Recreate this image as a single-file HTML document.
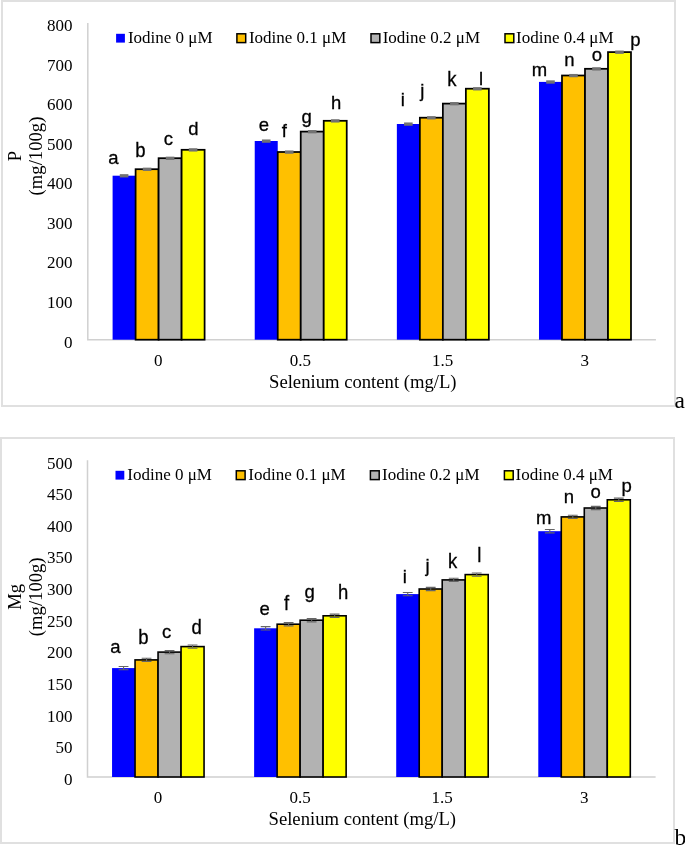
<!DOCTYPE html>
<html><head><meta charset="utf-8"><style>
html,body{margin:0;padding:0;background:#fff;}
svg{display:block;will-change:transform;}
</style></head><body>
<svg width="685" height="845" viewBox="0 0 685 845">
<g transform="translate(0 0)">
<rect x="2" y="1" width="673" height="405" fill="#fff" stroke="#e0e0e0" stroke-width="2"/>
<text x="72.6" y="347.6" text-anchor="end" font-family="'Liberation Serif', serif" font-size="17">0</text>
<text x="72.6" y="308.02" text-anchor="end" font-family="'Liberation Serif', serif" font-size="17">100</text>
<text x="72.6" y="268.45" text-anchor="end" font-family="'Liberation Serif', serif" font-size="17">200</text>
<text x="72.6" y="228.88" text-anchor="end" font-family="'Liberation Serif', serif" font-size="17">300</text>
<text x="72.6" y="189.3" text-anchor="end" font-family="'Liberation Serif', serif" font-size="17">400</text>
<text x="72.6" y="149.72" text-anchor="end" font-family="'Liberation Serif', serif" font-size="17">500</text>
<text x="72.6" y="110.15" text-anchor="end" font-family="'Liberation Serif', serif" font-size="17">600</text>
<text x="72.6" y="70.58" text-anchor="end" font-family="'Liberation Serif', serif" font-size="17">700</text>
<text x="72.6" y="31" text-anchor="end" font-family="'Liberation Serif', serif" font-size="17">800</text>
<path d="M87.8 23.1V339.7H655.92" stroke="#d0d0d0" stroke-width="1.5" fill="none"/>
<rect x="112.6" y="175.7" width="23" height="164" fill="#0000ff"/>
<rect x="135.6" y="169.2" width="23" height="170.5" fill="#ffc000" stroke="#000" stroke-width="1.75"/>
<rect x="158.6" y="158.2" width="23" height="181.5" fill="#b2b2b2" stroke="#000" stroke-width="1.75"/>
<rect x="181.6" y="149.8" width="23" height="189.9" fill="#ffff00" stroke="#000" stroke-width="1.75"/>
<rect x="254.73" y="141" width="23" height="198.7" fill="#0000ff"/>
<rect x="277.73" y="152" width="23" height="187.7" fill="#ffc000" stroke="#000" stroke-width="1.75"/>
<rect x="300.73" y="131.6" width="23" height="208.1" fill="#b2b2b2" stroke="#000" stroke-width="1.75"/>
<rect x="323.73" y="120.8" width="23" height="218.9" fill="#ffff00" stroke="#000" stroke-width="1.75"/>
<rect x="396.86" y="124" width="23" height="215.7" fill="#0000ff"/>
<rect x="419.86" y="117.7" width="23" height="222" fill="#ffc000" stroke="#000" stroke-width="1.75"/>
<rect x="442.86" y="103.6" width="23" height="236.1" fill="#b2b2b2" stroke="#000" stroke-width="1.75"/>
<rect x="465.86" y="88.7" width="23" height="251" fill="#ffff00" stroke="#000" stroke-width="1.75"/>
<rect x="538.99" y="81.9" width="23" height="257.8" fill="#0000ff"/>
<rect x="561.99" y="75.5" width="23" height="264.2" fill="#ffc000" stroke="#000" stroke-width="1.75"/>
<rect x="584.99" y="68.8" width="23" height="270.9" fill="#b2b2b2" stroke="#000" stroke-width="1.75"/>
<rect x="607.99" y="52.1" width="23" height="287.6" fill="#ffff00" stroke="#000" stroke-width="1.75"/>
<rect x="119.8" y="174.15" width="8.6" height="3.3" fill="#727272"/>
<rect x="142.8" y="167.65" width="8.6" height="3.3" fill="#727272"/>
<rect x="165.8" y="156.65" width="8.6" height="3.3" fill="#727272"/>
<rect x="188.8" y="148.25" width="8.6" height="3.3" fill="#727272"/>
<rect x="261.93" y="139.45" width="8.6" height="3.3" fill="#727272"/>
<rect x="284.93" y="150.45" width="8.6" height="3.3" fill="#727272"/>
<rect x="307.93" y="130.05" width="8.6" height="3.3" fill="#727272"/>
<rect x="330.93" y="119.25" width="8.6" height="3.3" fill="#727272"/>
<rect x="404.06" y="122.45" width="8.6" height="3.3" fill="#727272"/>
<rect x="427.06" y="116.15" width="8.6" height="3.3" fill="#727272"/>
<rect x="450.06" y="102.05" width="8.6" height="3.3" fill="#727272"/>
<rect x="473.06" y="87.15" width="8.6" height="3.3" fill="#727272"/>
<rect x="546.19" y="80.35" width="8.6" height="3.3" fill="#727272"/>
<rect x="569.19" y="73.95" width="8.6" height="3.3" fill="#727272"/>
<rect x="592.19" y="67.25" width="8.6" height="3.3" fill="#727272"/>
<rect x="615.19" y="50.55" width="8.6" height="3.3" fill="#727272"/>
<text x="113.35" y="164.0" text-anchor="middle" font-family="'Liberation Sans', sans-serif" font-size="18.5" stroke="#000" stroke-width="0.3">a</text>
<text transform="translate(140.4 156.8) scale(1 1.05)" text-anchor="middle" font-family="'Liberation Sans', sans-serif" font-size="18.5" stroke="#000" stroke-width="0.28">b</text>
<text x="168.4" y="144.5" text-anchor="middle" font-family="'Liberation Sans', sans-serif" font-size="18.5" stroke="#000" stroke-width="0.3">c</text>
<text transform="translate(193.45 134.9) scale(1 1.03)" text-anchor="middle" font-family="'Liberation Sans', sans-serif" font-size="18.5" stroke="#000" stroke-width="0.28">d</text>
<text x="263.9" y="131.0" text-anchor="middle" font-family="'Liberation Sans', sans-serif" font-size="18.5" stroke="#000" stroke-width="0.3">e</text>
<text transform="translate(284.25 137.1) scale(1 1.03)" text-anchor="middle" font-family="'Liberation Sans', sans-serif" font-size="18.5" stroke="#000" stroke-width="0.28">f</text>
<text x="306.6" y="122.5" text-anchor="middle" font-family="'Liberation Sans', sans-serif" font-size="18.5" stroke="#000" stroke-width="0.3">g</text>
<text transform="translate(336.2 109.1) scale(1 1.03)" text-anchor="middle" font-family="'Liberation Sans', sans-serif" font-size="18.5" stroke="#000" stroke-width="0.28">h</text>
<text x="402.75" y="105.6" text-anchor="middle" font-family="'Liberation Sans', sans-serif" font-size="18.5" stroke="#000" stroke-width="0.3">i</text>
<text x="422.35" y="97.0" text-anchor="middle" font-family="'Liberation Sans', sans-serif" font-size="18.5" stroke="#000" stroke-width="0.3">j</text>
<text transform="translate(451.85 86.0) scale(1 1.08)" text-anchor="middle" font-family="'Liberation Sans', sans-serif" font-size="18.5" stroke="#000" stroke-width="0.28">k</text>
<text transform="translate(480.95 84.8) scale(1 1.03)" text-anchor="middle" font-family="'Liberation Sans', sans-serif" font-size="18.5" stroke="#000" stroke-width="0.28">l</text>
<text x="539.35" y="75.8" text-anchor="middle" font-family="'Liberation Sans', sans-serif" font-size="18.5" stroke="#000" stroke-width="0.3">m</text>
<text x="569.4" y="65.8" text-anchor="middle" font-family="'Liberation Sans', sans-serif" font-size="18.5" stroke="#000" stroke-width="0.3">n</text>
<text x="597.0" y="60.6" text-anchor="middle" font-family="'Liberation Sans', sans-serif" font-size="18.5" stroke="#000" stroke-width="0.3">o</text>
<text x="635.5" y="45.8" text-anchor="middle" font-family="'Liberation Sans', sans-serif" font-size="18.5" stroke="#000" stroke-width="0.3">p</text>
<text x="158.3" y="365.7" text-anchor="middle" font-family="'Liberation Serif', serif" font-size="17">0</text>
<text x="300.43" y="365.7" text-anchor="middle" font-family="'Liberation Serif', serif" font-size="17">0.5</text>
<text x="442.56" y="365.7" text-anchor="middle" font-family="'Liberation Serif', serif" font-size="17">1.5</text>
<text x="584.69" y="365.7" text-anchor="middle" font-family="'Liberation Serif', serif" font-size="17">3</text>
<text x="362.8" y="387.5" text-anchor="middle" font-family="'Liberation Serif', serif" font-size="18.67">Selenium content (mg/L)</text>
<text transform="translate(21.3 156.0) rotate(-90)" text-anchor="middle" font-family="'Liberation Serif', serif" font-size="18.67">P</text>
<text transform="translate(42.0 156.0) rotate(-90)" text-anchor="middle" font-family="'Liberation Serif', serif" font-size="18.67">(mg/100g)</text>
<rect x="116.1" y="33.8" width="8.8" height="8.8" fill="#0000ff"/>
<text x="127.9" y="42.9" font-family="'Liberation Serif', serif" font-size="17">Iodine 0 μM</text>
<rect x="236.9" y="33.8" width="8.8" height="8.8" fill="#ffc000" stroke="#000" stroke-width="1.5"/>
<text x="248.9" y="42.9" font-family="'Liberation Serif', serif" font-size="17">Iodine 0.1 μM</text>
<rect x="371.0" y="33.8" width="8.8" height="8.8" fill="#b2b2b2" stroke="#000" stroke-width="1.5"/>
<text x="382.7" y="42.9" font-family="'Liberation Serif', serif" font-size="17">Iodine 0.2 μM</text>
<rect x="505.0" y="33.8" width="8.8" height="8.8" fill="#ffff00" stroke="#000" stroke-width="1.5"/>
<text x="516.1" y="42.9" font-family="'Liberation Serif', serif" font-size="17">Iodine 0.4 μM</text>
<text x="674.4" y="407.6" font-family="'Liberation Serif', serif" font-size="23.5">a</text>
</g>
<g transform="translate(0 0)">
<rect x="1" y="438" width="673" height="405" fill="#fff" stroke="#e0e0e0" stroke-width="2"/>
<text x="72.6" y="784.9" text-anchor="end" font-family="'Liberation Serif', serif" font-size="17">0</text>
<text x="72.6" y="753.27" text-anchor="end" font-family="'Liberation Serif', serif" font-size="17">50</text>
<text x="72.6" y="721.64" text-anchor="end" font-family="'Liberation Serif', serif" font-size="17">100</text>
<text x="72.6" y="690.01" text-anchor="end" font-family="'Liberation Serif', serif" font-size="17">150</text>
<text x="72.6" y="658.38" text-anchor="end" font-family="'Liberation Serif', serif" font-size="17">200</text>
<text x="72.6" y="626.75" text-anchor="end" font-family="'Liberation Serif', serif" font-size="17">250</text>
<text x="72.6" y="595.12" text-anchor="end" font-family="'Liberation Serif', serif" font-size="17">300</text>
<text x="72.6" y="563.49" text-anchor="end" font-family="'Liberation Serif', serif" font-size="17">350</text>
<text x="72.6" y="531.86" text-anchor="end" font-family="'Liberation Serif', serif" font-size="17">400</text>
<text x="72.6" y="500.23" text-anchor="end" font-family="'Liberation Serif', serif" font-size="17">450</text>
<text x="72.6" y="468.6" text-anchor="end" font-family="'Liberation Serif', serif" font-size="17">500</text>
<path d="M87.5 460.2V777.0H655.62" stroke="#d0d0d0" stroke-width="1.5" fill="none"/>
<rect x="112.05" y="668.1" width="23" height="108.9" fill="#0000ff"/>
<rect x="135.05" y="659.9" width="23" height="117.1" fill="#ffc000" stroke="#000" stroke-width="1.6"/>
<rect x="158.05" y="652.1" width="23" height="124.9" fill="#b2b2b2" stroke="#000" stroke-width="1.6"/>
<rect x="181.05" y="646.6" width="23" height="130.4" fill="#ffff00" stroke="#000" stroke-width="1.6"/>
<rect x="254.13" y="628.3" width="23" height="148.7" fill="#0000ff"/>
<rect x="277.13" y="624.2" width="23" height="152.8" fill="#ffc000" stroke="#000" stroke-width="1.6"/>
<rect x="300.13" y="620.2" width="23" height="156.8" fill="#b2b2b2" stroke="#000" stroke-width="1.6"/>
<rect x="323.13" y="615.8" width="23" height="161.2" fill="#ffff00" stroke="#000" stroke-width="1.6"/>
<rect x="396.21" y="594.1" width="23" height="182.9" fill="#0000ff"/>
<rect x="419.21" y="589" width="23" height="188" fill="#ffc000" stroke="#000" stroke-width="1.6"/>
<rect x="442.21" y="579.9" width="23" height="197.1" fill="#b2b2b2" stroke="#000" stroke-width="1.6"/>
<rect x="465.21" y="574.6" width="23" height="202.4" fill="#ffff00" stroke="#000" stroke-width="1.6"/>
<rect x="538.29" y="531.2" width="23" height="245.8" fill="#0000ff"/>
<rect x="561.29" y="516.9" width="23" height="260.1" fill="#ffc000" stroke="#000" stroke-width="1.6"/>
<rect x="584.29" y="508" width="23" height="269" fill="#b2b2b2" stroke="#000" stroke-width="1.6"/>
<rect x="607.29" y="499.8" width="23" height="277.2" fill="#ffff00" stroke="#000" stroke-width="1.6"/>
<path d="M118.65 666.45H128.45M118.65 669.75H128.45M123.55 666.45V669.75" stroke="#666666" stroke-width="1.1" fill="none"/>
<path d="M141.65 658.25H151.45M141.65 661.55H151.45M146.55 658.25V661.55" stroke="#666666" stroke-width="1.1" fill="none"/>
<path d="M164.65 650.45H174.45M164.65 653.75H174.45M169.55 650.45V653.75" stroke="#666666" stroke-width="1.1" fill="none"/>
<path d="M187.65 644.95H197.45M187.65 648.25H197.45M192.55 644.95V648.25" stroke="#666666" stroke-width="1.1" fill="none"/>
<path d="M260.73 626.65H270.53M260.73 629.95H270.53M265.63 626.65V629.95" stroke="#666666" stroke-width="1.1" fill="none"/>
<path d="M283.73 622.55H293.53M283.73 625.85H293.53M288.63 622.55V625.85" stroke="#666666" stroke-width="1.1" fill="none"/>
<path d="M306.73 618.55H316.53M306.73 621.85H316.53M311.63 618.55V621.85" stroke="#666666" stroke-width="1.1" fill="none"/>
<path d="M329.73 614.15H339.53M329.73 617.45H339.53M334.63 614.15V617.45" stroke="#666666" stroke-width="1.1" fill="none"/>
<path d="M402.81 592.45H412.61M402.81 595.75H412.61M407.71 592.45V595.75" stroke="#666666" stroke-width="1.1" fill="none"/>
<path d="M425.81 587.35H435.61M425.81 590.65H435.61M430.71 587.35V590.65" stroke="#666666" stroke-width="1.1" fill="none"/>
<path d="M448.81 578.25H458.61M448.81 581.55H458.61M453.71 578.25V581.55" stroke="#666666" stroke-width="1.1" fill="none"/>
<path d="M471.81 572.95H481.61M471.81 576.25H481.61M476.71 572.95V576.25" stroke="#666666" stroke-width="1.1" fill="none"/>
<path d="M544.89 529.55H554.69M544.89 532.85H554.69M549.79 529.55V532.85" stroke="#666666" stroke-width="1.1" fill="none"/>
<path d="M567.89 515.25H577.69M567.89 518.55H577.69M572.79 515.25V518.55" stroke="#666666" stroke-width="1.1" fill="none"/>
<path d="M590.89 506.35H600.69M590.89 509.65H600.69M595.79 506.35V509.65" stroke="#666666" stroke-width="1.1" fill="none"/>
<path d="M613.89 498.15H623.69M613.89 501.45H623.69M618.79 498.15V501.45" stroke="#666666" stroke-width="1.1" fill="none"/>
<text x="115.35" y="653.2" text-anchor="middle" font-family="'Liberation Sans', sans-serif" font-size="18.5" stroke="#000" stroke-width="0.3">a</text>
<text transform="translate(143.3 644.1) scale(1 1.07)" text-anchor="middle" font-family="'Liberation Sans', sans-serif" font-size="18.5" stroke="#000" stroke-width="0.28">b</text>
<text x="166.55" y="638.2" text-anchor="middle" font-family="'Liberation Sans', sans-serif" font-size="18.5" stroke="#000" stroke-width="0.3">c</text>
<text transform="translate(196.65 634.2) scale(1 1.07)" text-anchor="middle" font-family="'Liberation Sans', sans-serif" font-size="18.5" stroke="#000" stroke-width="0.28">d</text>
<text x="264.7" y="615.2" text-anchor="middle" font-family="'Liberation Sans', sans-serif" font-size="18.5" stroke="#000" stroke-width="0.3">e</text>
<text transform="translate(286.45 609.6) scale(1 1.07)" text-anchor="middle" font-family="'Liberation Sans', sans-serif" font-size="18.5" stroke="#000" stroke-width="0.28">f</text>
<text x="309.65" y="598.0" text-anchor="middle" font-family="'Liberation Sans', sans-serif" font-size="18.5" stroke="#000" stroke-width="0.3">g</text>
<text transform="translate(343.1 598.5) scale(1 1.07)" text-anchor="middle" font-family="'Liberation Sans', sans-serif" font-size="18.5" stroke="#000" stroke-width="0.28">h</text>
<text x="404.9" y="582.6" text-anchor="middle" font-family="'Liberation Sans', sans-serif" font-size="18.5" stroke="#000" stroke-width="0.3">i</text>
<text x="427.5" y="571.8" text-anchor="middle" font-family="'Liberation Sans', sans-serif" font-size="18.5" stroke="#000" stroke-width="0.3">j</text>
<text transform="translate(452.6 568.0) scale(1 1.07)" text-anchor="middle" font-family="'Liberation Sans', sans-serif" font-size="18.5" stroke="#000" stroke-width="0.28">k</text>
<text transform="translate(479.2 562.4) scale(1 1.07)" text-anchor="middle" font-family="'Liberation Sans', sans-serif" font-size="18.5" stroke="#000" stroke-width="0.28">l</text>
<text x="543.65" y="524.3" text-anchor="middle" font-family="'Liberation Sans', sans-serif" font-size="18.5" stroke="#000" stroke-width="0.3">m</text>
<text x="568.85" y="502.9" text-anchor="middle" font-family="'Liberation Sans', sans-serif" font-size="18.5" stroke="#000" stroke-width="0.3">n</text>
<text x="595.75" y="497.7" text-anchor="middle" font-family="'Liberation Sans', sans-serif" font-size="18.5" stroke="#000" stroke-width="0.3">o</text>
<text x="626.6" y="491.6" text-anchor="middle" font-family="'Liberation Sans', sans-serif" font-size="18.5" stroke="#000" stroke-width="0.3">p</text>
<text x="158.05" y="803.0" text-anchor="middle" font-family="'Liberation Serif', serif" font-size="17">0</text>
<text x="300.13" y="803.0" text-anchor="middle" font-family="'Liberation Serif', serif" font-size="17">0.5</text>
<text x="442.21" y="803.0" text-anchor="middle" font-family="'Liberation Serif', serif" font-size="17">1.5</text>
<text x="584.29" y="803.0" text-anchor="middle" font-family="'Liberation Serif', serif" font-size="17">3</text>
<text x="362.3" y="824.8" text-anchor="middle" font-family="'Liberation Serif', serif" font-size="18.67">Selenium content (mg/L)</text>
<text transform="translate(20.5 596.8) rotate(-90)" text-anchor="middle" font-family="'Liberation Serif', serif" font-size="18.67">Mg</text>
<text transform="translate(42.0 596.8) rotate(-90)" text-anchor="middle" font-family="'Liberation Serif', serif" font-size="18.67">(mg/100g)</text>
<rect x="115.5" y="470.8" width="8.8" height="8.8" fill="#0000ff"/>
<text x="127.3" y="479.9" font-family="'Liberation Serif', serif" font-size="17">Iodine 0 μM</text>
<rect x="236.3" y="470.8" width="8.8" height="8.8" fill="#ffc000" stroke="#000" stroke-width="1.5"/>
<text x="248.3" y="479.9" font-family="'Liberation Serif', serif" font-size="17">Iodine 0.1 μM</text>
<rect x="370.4" y="470.8" width="8.8" height="8.8" fill="#b2b2b2" stroke="#000" stroke-width="1.5"/>
<text x="382.1" y="479.9" font-family="'Liberation Serif', serif" font-size="17">Iodine 0.2 μM</text>
<rect x="504.4" y="470.8" width="8.8" height="8.8" fill="#ffff00" stroke="#000" stroke-width="1.5"/>
<text x="515.5" y="479.9" font-family="'Liberation Serif', serif" font-size="17">Iodine 0.4 μM</text>
<text x="674.6" y="844.9" font-family="'Liberation Serif', serif" font-size="23.5">b</text>
</g>
</svg>
</body></html>
